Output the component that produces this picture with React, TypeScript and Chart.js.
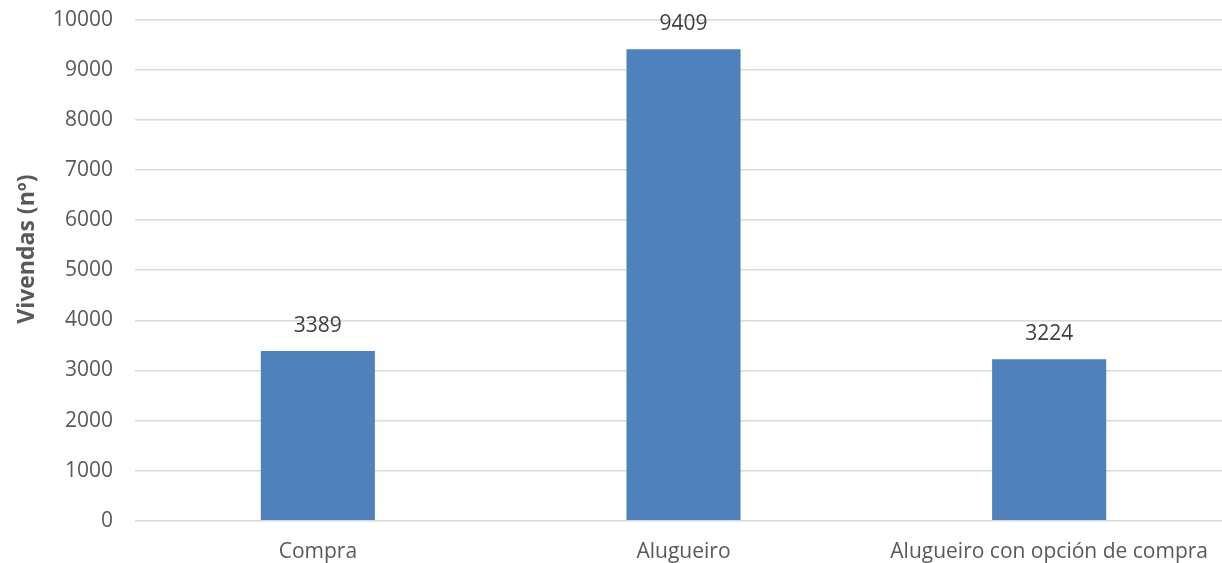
import React, { useEffect, useRef } from "react";
import { Chart, registerables } from "chart.js";

Chart.register(...registerables);

const categories = ["Compra", "Alugueiro", "Alugueiro con opción de compra"];
const values = [3389, 9409, 3224];
const yTicks = [0, 1000, 2000, 3000, 4000, 5000, 6000, 7000, 8000, 9000, 10000];
const yTitle = "Vivendas (nº)";

const FONT = "'Open Sans', 'Noto Sans', sans-serif";

const valueLabels = {
  id: "valueLabels",
  afterDatasetsDraw(chart: any) {
    const ctx = chart.ctx;
    const meta = chart.getDatasetMeta(0);
    ctx.save();
    ctx.font = `21px ${FONT}`;
    ctx.fillStyle = "#404040";
    ctx.textAlign = "center";
    ctx.textBaseline = "middle";
    meta.data.forEach((bar: any, i: number) => {
      ctx.fillText(String(values[i]), bar.x, bar.y - 25);
    });
    ctx.restore();
  },
};

const axisTitle = {
  id: "axisTitle",
  afterDraw(chart: any) {
    const ctx = chart.ctx;
    const area = chart.chartArea;
    const yScale = chart.scales.y;
    ctx.save();
    ctx.font = `bold 23px ${FONT}`;
    ctx.fillStyle = "#595959";
    ctx.textAlign = "center";
    ctx.textBaseline = "middle";
    ctx.translate(yScale.left - 4, area.top + (area.bottom - area.top) * 0.458);
    ctx.rotate(-Math.PI / 2);
    ctx.fillText(yTitle, 0, 0);
    ctx.restore();
  },
};

export default function App() {
  const ref = useRef<HTMLCanvasElement | null>(null);
  useEffect(() => {
    if (!ref.current) return;
    const chart = new Chart(ref.current, {
      type: "bar",
      data: {
        labels: categories,
        datasets: [
          {
            data: values,
            backgroundColor: "#4f81bd",
            borderWidth: 0,
            barPercentage: 0.312,
            categoryPercentage: 1,
          },
        ],
      },
      options: {
        animation: false,
        responsive: false,
        maintainAspectRatio: false,
        layout: { padding: { top: 0, left: 31, right: 0, bottom: 0 } },
        plugins: {
          legend: { display: false },
          tooltip: { enabled: false },
        },
        scales: {
          x: {
            grid: { display: false, drawTicks: false },
            border: { display: false },
            ticks: {
              color: "#595959",
              font: { family: FONT, size: 21 },
              padding: 19,
              maxRotation: 0,
              autoSkip: false,
            },
          },
          y: {
            min: 0,
            max: 10000,
            afterBuildTicks: (axis: any) => {
              axis.ticks = yTicks.map((v) => ({ value: v }));
            },
            grid: { color: "#d9d9d9", lineWidth: 1.5, drawTicks: false },
            border: { display: false },
            ticks: {
              color: "#595959",
              font: { family: FONT, size: 21 },
              padding: 22,
              callback: (v: any) => String(v),
            },
          },
        },
      },
      plugins: [valueLabels, axisTitle],
    });
    return () => chart.destroy();
  }, []);
  return (
    <div
      style={{
        position: "fixed",
        left: 0,
        top: 0,
        width: 1222,
        height: 563,
        overflow: "hidden",
        background: "#ffffff",
      }}
    >
      <canvas
        ref={ref}
        width={1232}
        height={599}
        style={{ display: "block", position: "absolute", left: 0, top: -15 }}
      />
    </div>
  );
}
